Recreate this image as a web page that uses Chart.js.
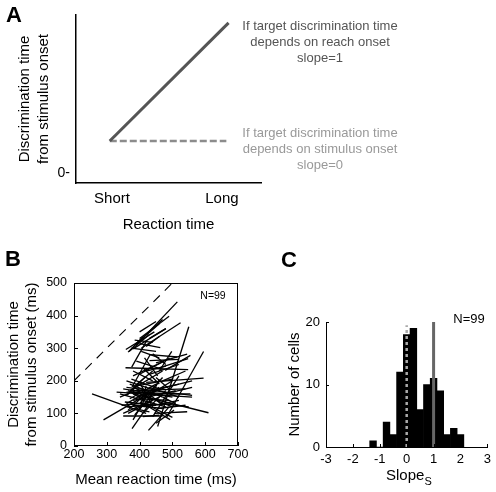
<!DOCTYPE html>
<html>
<head>
<meta charset="utf-8">
<script src="https://cdn.jsdelivr.net/npm/chart.js@4.4.1/dist/chart.umd.min.js"></script>
<style>
  html, body { margin: 0; padding: 0; background: #fff; }
  body { width: 496px; height: 492px; position: relative; overflow: hidden; font-family: "Liberation Sans", Arial, sans-serif; color: #000; }
  canvas { position: absolute; left: 0; top: 0; }
  .txt { position: absolute; white-space: nowrap; line-height: 1; z-index: 2; }
  .panel { font-weight: bold; font-size: 22px; }
  .note { font-size: 13px; line-height: 16px; text-align: center; width: 200px; }
  .mid { transform: translate(-50%, -50%); }
  sub { font-size: 11px; vertical-align: -5px; line-height: 0; }
</style>
</head>
<body>
<canvas id="chartA" width="496" height="492"></canvas>
<canvas id="chartB" width="496" height="492"></canvas>
<canvas id="chartC" width="496" height="492"></canvas>

<div class="txt panel" style="left:6px;top:4px">A</div>
<div class="txt panel" style="left:5px;top:248px">B</div>
<div class="txt panel" style="left:281px;top:249px">C</div>

<div class="txt note" style="left:220px;top:18px;color:#555">If target discrimination time<br>depends on reach onset<br>slope=1</div>
<div class="txt note" style="left:220px;top:125px;color:#999">If target discrimination time<br>depends on stimulus onset<br>slope=0</div>

<div class="txt mid" style="left:213px;top:295px;font-size:10.5px">N=99</div>
<div class="txt mid" style="left:469px;top:318px;font-size:13px">N=99</div>
<div class="txt" style="left:386px;top:467px;font-size:15px">Slope<sub>S</sub></div>

<script>
// ---- Panel A: schematic ----
const rtLevels = [1, 2];
const rtLabels = ['Short', 'Long'];
const schemeRT = [0.98, 2.06];          // start / end of the two model lines
const slopeOneDT = [1, 4.69];           // discrimination time if it follows reach onset
const slopeZeroDT = [1, 1];             // discrimination time if it follows stimulus onset
const schemeYTicks = [0];
const schemeYLabels = ['0-'];

// ---- Panel B: one regression line per cell [rt1, dt1, rt2, dt2] (ms) ----
const cellLines = [
  [390,310,515,442],[400,330,490,398],[395,318,470,388],[405,300,525,378],[380,298,480,360],
  [385,325,440,318],[400,314,463,302],[368,290,430,342],[358,296,445,350],[420,305,460,336],
  [376,242,422,324],[365,288,410,335],[357,240,548,234],[432,280,515,273],[440,283,480,250],
  [377,181,432,280],[450,255,545,282],[460,240,548,268],[478,232,555,278],[430,262,520,266],
  [400,220,492,270],[460,230,498,290],[380,215,470,258],[420,195,595,208],[380,160,610,102],
  [483,89,595,290],[455,60,550,366],[290,80,460,180],[255,160,420,100],[350,175,500,150],
  [360,165,520,160],[340,160,480,120],[370,190,470,150],[330,165,560,150],[360,120,500,130],
  [380,180,440,230],[400,130,470,210],[365,110,430,170],[410,100,480,170],[420,150,500,200],
  [440,90,520,215],[355,135,450,125],[390,170,540,175],[370,145,450,190],[360,200,450,170],
  [380,125,470,115],[400,160,500,120],[430,180,520,150],[350,100,460,150],[360,155,400,190],
  [400,110,420,185],[430,140,460,205],[385,95,440,160],[350,92,470,92],[380,80,420,150],
  [377,53,430,130],[427,48,490,120],[450,70,505,110],[420,125,493,81],[440,118,500,88],
  [360,180,560,155],[375,205,460,175],[395,150,480,180],[410,175,470,125],[360,130,420,165],
  [420,120,520,140],[440,160,555,160],[365,170,415,140],[380,140,510,170],[400,195,440,120],
  [345,125,400,130],[455,175,520,190],[470,130,550,120],[395,185,500,205],[372,168,418,212],
  [430,220,520,250],[420,230,480,245],[380,230,440,200],[370,170,470,230],[410,240,460,190],
  [390,260,470,235],[415,270,455,215],[470,200,540,230],[480,180,560,200],[450,210,490,175],
  [405,290,460,270],[420,340,460,375],[430,330,480,360],[375,300,450,290],[400,350,450,382],
  [445,100,545,105],[455,115,540,125],[400,145,490,140],[385,115,430,105],[410,90,460,95],
  [365,100,440,140],[340,150,400,175],[470,150,510,130],[500,165,560,180]
];
const unityRT = [200, 500];             // dashed slope=1 reference

// ---- Panel C: histogram of slopes ----
const slopeBins = [-1.25, -1, -0.75, -0.5, -0.25, 0, 0.25, 0.5, 0.75, 1, 1.25, 1.5, 1.75, 2];
const cellCounts = [1, 0, 4, 2, 12, 18, 19, 6, 10, 11, 9, 2, 3, 2];
const zeroMarkTop = 19.5;
const oneMarkTop = 20;

Chart.defaults.font.family = '"Liberation Sans", Arial, sans-serif';
Chart.defaults.color = '#000';

const innerTicks = {
  id: 'innerTicks',
  afterDraw(chart, args, opts) {
    const {ctx, chartArea, scales} = chart;
    ctx.save();
    ctx.strokeStyle = '#000';
    ctx.lineWidth = 1;
    ctx.beginPath();
    scales.x.ticks.forEach(t => {
      const px = Math.round(scales.x.getPixelForValue(t.value)) + 0.5;
      ctx.moveTo(px, chartArea.bottom);
      ctx.lineTo(px, chartArea.bottom - opts.len);
    });
    scales.y.ticks.forEach(t => {
      const py = Math.round(scales.y.getPixelForValue(t.value)) + 0.5;
      ctx.moveTo(chartArea.left, py);
      ctx.lineTo(chartArea.left + opts.len, py);
    });
    ctx.stroke();
    ctx.restore();
  }
};

const frameBox = {
  id: 'frameBox',
  afterDatasetsDraw(chart) {
    const {ctx, chartArea: a} = chart;
    ctx.save();
    ctx.strokeStyle = '#000';
    ctx.lineWidth = 1;
    ctx.strokeRect(Math.round(a.left) + 0.5, Math.round(a.top) + 0.5,
                   Math.round(a.right - a.left) - 1, Math.round(a.bottom - a.top) - 1);
    ctx.restore();
  }
};

const baseOpts = {
  responsive: false,
  animation: false,
  devicePixelRatio: 1,
  events: []
};

// Panel A
new Chart(document.getElementById('chartA'), {
  type: 'scatter',
  data: {
    datasets: [
      {
        data: schemeRT.map((x, i) => ({x, y: slopeOneDT[i]})),
        showLine: true, borderColor: '#555', borderWidth: 3, pointRadius: 0
      },
      {
        data: schemeRT.map((x, i) => ({x: i ? x - 0.02 : x, y: slopeZeroDT[i]})),
        showLine: true, borderColor: '#8c8c8c', borderWidth: 2.5, borderDash: [7, 3], pointRadius: 0
      }
    ]
  },
  options: {
    ...baseOpts,
    layout: {padding: {top: 15, left: 0, right: 235, bottom: 249}},
    plugins: {legend: {display: false}, tooltip: {enabled: false}},
    scales: {
      x: {
        min: 0.673, max: 2.355,
        afterBuildTicks: s => { s.ticks = rtLevels.map(v => ({value: v})); },
        afterFit: s => { s.height = 60; },
        grid: {display: false, drawTicks: false},
        border: {display: true, color: '#000', width: 1.5},
        ticks: {
          padding: 7, autoSkip: false, maxRotation: 0, font: {size: 15},
          callback: (v, i) => rtLabels[i]
        },
        title: {display: true, text: 'Reaction time', font: {size: 15}, padding: {top: 0, bottom: 9}}
      },
      y: {
        min: -0.3125, max: 4.9375,
        afterBuildTicks: s => { s.ticks = schemeYTicks.map(v => ({value: v})); },
        afterFit: s => { s.width = 76; },
        grid: {display: false, drawTicks: false},
        border: {display: true, color: '#000', width: 1.5},
        ticks: {padding: 6, font: {size: 14}, callback: (v, i) => schemeYLabels[i]},
        title: {
          display: true, text: ['Discrimination time', 'from stimulus onset'],
          font: {size: 15, lineHeight: 1.3}, padding: {top: 15, bottom: 0}
        }
      }
    }
  }
});

// Panel B
const bDatasets = cellLines.map(s => ({
  data: [{x: s[0], y: s[1]}, {x: s[2], y: s[3]}],
  showLine: true, borderColor: '#000', borderWidth: 1.3, pointRadius: 0
}));
bDatasets.push({
  data: unityRT.map(v => ({x: v, y: v})),
  showLine: true, borderColor: '#000', borderWidth: 1.1, borderDash: [9, 7], pointRadius: 0
});

new Chart(document.getElementById('chartB'), {
  type: 'scatter',
  data: {datasets: bDatasets},
  plugins: [innerTicks, frameBox],
  options: {
    ...baseOpts,
    layout: {padding: {top: 283, left: 0, right: 258, bottom: 0}},
    plugins: {legend: {display: false}, tooltip: {enabled: false}, innerTicks: {len: 4}},
    scales: {
      x: {
        min: 200, max: 700,
        afterFit: s => { s.height = 46; },
        grid: {display: false, drawTicks: false},
        border: {display: false},
        ticks: {stepSize: 100, padding: 1, maxRotation: 0, font: {size: 12.5}},
        title: {display: true, text: 'Mean reaction time (ms)', font: {size: 15}, padding: {top: 0, bottom: 3}}
      },
      y: {
        min: 0, max: 500,
        afterFit: s => { s.width = 74; },
        grid: {display: false, drawTicks: false},
        border: {display: false},
        ticks: {stepSize: 100, padding: 7, font: {size: 12.5}},
        title: {
          display: true, text: ['Discrimination time', 'from stimulus onset (ms)'],
          font: {size: 15, lineHeight: 1.2}, padding: {top: 5, bottom: 0}
        }
      }
    }
  }
});

// Panel C
new Chart(document.getElementById('chartC'), {
  type: 'bar',
  data: {
    datasets: [
      {
        type: 'line',
        data: [{x: 0, y: 0}, {x: 0, y: zeroMarkTop}],
        borderColor: '#aaa', borderWidth: 2.5, borderDash: [3, 3], pointRadius: 0, order: 0
      },
      {
        type: 'line',
        data: [{x: 1, y: 0}, {x: 1, y: oneMarkTop}],
        borderColor: '#666', borderWidth: 3, pointRadius: 0, order: 0
      },
      {
        type: 'bar',
        data: slopeBins.map((b, i) => ({x: b, y: cellCounts[i]})),
        backgroundColor: '#000', borderWidth: 0,
        barPercentage: 1, categoryPercentage: 1, order: 1
      }
    ]
  },
  plugins: [innerTicks],
  options: {
    ...baseOpts,
    layout: {padding: {top: 322, left: 270, right: 8, bottom: 0}},
    plugins: {legend: {display: false}, tooltip: {enabled: false}, innerTicks: {len: 3}},
    scales: {
      x: {
        type: 'linear', min: -3, max: 3, offset: false,
        afterFit: s => { s.height = 45; },
        grid: {display: false, drawTicks: false},
        border: {display: true, color: '#000', width: 1},
        ticks: {stepSize: 1, padding: 5, maxRotation: 0, font: {size: 13}}
      },
      y: {
        min: 0, max: 20,
        afterFit: s => { s.width = 56; },
        grid: {display: false, drawTicks: false},
        border: {display: true, color: '#000', width: 1},
        ticks: {stepSize: 10, padding: 6, font: {size: 13}},
        title: {display: true, text: 'Number of cells', font: {size: 15}, padding: {top: 16, bottom: 0}}
      }
    }
  }
});
</script>
</body>
</html>
